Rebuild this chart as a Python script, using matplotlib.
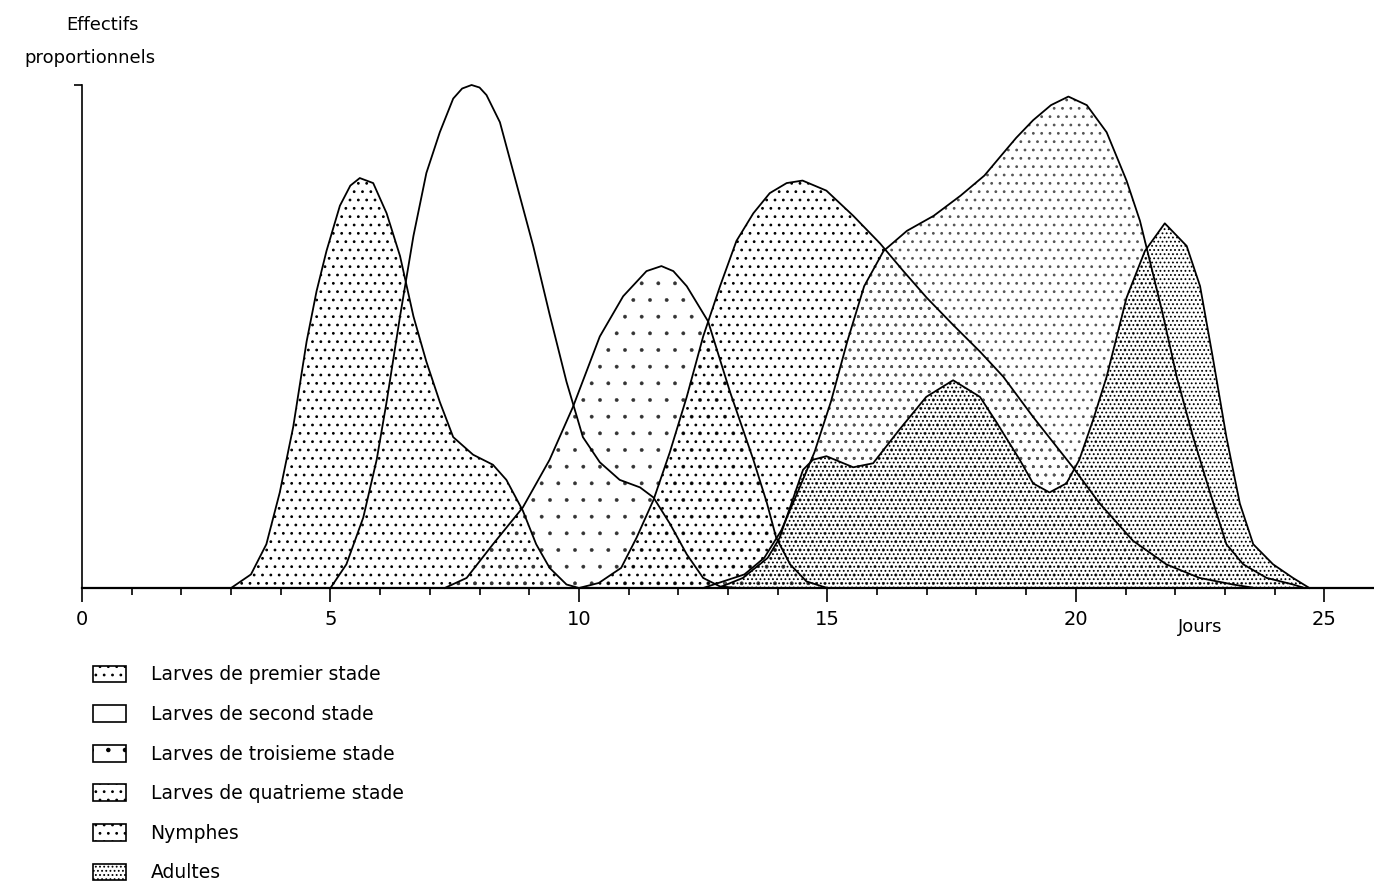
import matplotlib
matplotlib.use('Agg')
import matplotlib.pyplot as plt
from matplotlib.patches import Patch

plt.rcParams['font.family'] = ['DejaVu Sans']
plt.rcParams['hatch.linewidth'] = 0.8

# values (day, proportional count)
day_l1 = [3.0, 3.4, 3.71, 3.98, 4.25, 4.52, 4.72, 4.92, 5.19, 5.4, 5.59, 5.86, 6.13, 6.4, 6.67,
          6.93, 7.2, 7.47, 7.87, 8.27, 8.54, 8.87, 9.14, 9.41, 9.75, 10.0]
val_l1 = [0.0, 0.027, 0.087, 0.19, 0.32, 0.49, 0.59, 0.67, 0.76, 0.80, 0.815, 0.805, 0.745, 0.66, 0.54,
          0.45, 0.37, 0.30, 0.265, 0.245, 0.215, 0.154, 0.087, 0.04, 0.007, 0.0]

day_l2 = [5.0, 5.32, 5.66, 5.93, 6.13, 6.4, 6.67, 6.93, 7.2, 7.47, 7.65, 7.84, 8.0, 8.14, 8.41, 8.74,
          9.08, 9.41, 9.75, 10.08, 10.42, 10.82, 11.23, 11.5, 11.83, 12.17, 12.5, 12.84, 13.2]
val_l2 = [0.0, 0.047, 0.14, 0.255, 0.37, 0.54, 0.70, 0.825, 0.906, 0.973, 0.993, 1.0, 0.995, 0.98, 0.926, 0.805,
          0.68, 0.544, 0.41, 0.30, 0.25, 0.215, 0.2, 0.18, 0.128, 0.067, 0.02, 0.003, 0.0]

day_l3 = [7.3, 7.74, 8.27, 8.87, 9.41, 9.88, 10.42, 10.89, 11.36, 11.66, 11.9, 12.17, 12.6, 13.04,
          13.51, 13.78, 13.97, 14.25, 14.58, 15.0]
val_l3 = [0.0, 0.02, 0.087, 0.16, 0.255, 0.36, 0.50, 0.58, 0.63, 0.64, 0.63, 0.60, 0.53, 0.39,
          0.255, 0.17, 0.10, 0.047, 0.013, 0.0]

day_l4 = [10.0, 10.4, 10.85, 11.16, 11.5, 11.83, 12.17, 12.5, 12.84, 13.17, 13.51, 13.84, 14.18,
          14.5, 14.98, 15.52, 16.06, 16.53, 17.0, 17.53, 18.07, 18.54, 19.14, 19.94, 20.48,
          21.15, 21.82, 22.49, 23.16, 23.6]
val_l4 = [0.0, 0.01, 0.04, 0.10, 0.175, 0.27, 0.38, 0.5, 0.6, 0.69, 0.745, 0.785, 0.805,
          0.81, 0.79, 0.74, 0.685, 0.63, 0.577, 0.523, 0.47, 0.42, 0.34, 0.24, 0.168,
          0.094, 0.047, 0.02, 0.007, 0.0]

day_ny = [12.5, 13.33, 13.73, 14.07, 14.4, 14.74, 15.07, 15.4, 15.74, 16.13, 16.6, 17.14, 17.68,
          18.16, 18.5, 18.8, 19.14, 19.5, 19.85, 20.22, 20.62, 21.02, 21.29, 21.49, 21.76, 22.03,
          22.36, 22.7, 23.03, 23.37, 23.84, 24.37, 24.6]
val_ny = [0.0, 0.027, 0.06, 0.114, 0.19, 0.27, 0.37, 0.49, 0.60, 0.67, 0.71, 0.74, 0.78,
          0.82, 0.86, 0.895, 0.93, 0.96, 0.977, 0.96, 0.906, 0.81, 0.73, 0.65, 0.54, 0.42,
          0.30, 0.19, 0.087, 0.047, 0.02, 0.007, 0.0]

day_ad = [12.8, 13.3, 13.8, 14.04, 14.3, 14.51, 14.71, 14.98, 15.52, 15.92, 16.45, 16.99, 17.53,
          18.07, 18.4, 18.87, 19.14, 19.47, 19.81, 20.07, 20.35, 20.62, 21.02, 21.39, 21.79,
          22.23, 22.5, 22.76, 23.03, 23.3, 23.57, 23.97, 24.37, 24.7]
val_ad = [0.0, 0.02, 0.06, 0.10, 0.175, 0.235, 0.255, 0.262, 0.24, 0.248, 0.315, 0.38, 0.413,
          0.38, 0.33, 0.255, 0.208, 0.19, 0.208, 0.255, 0.335, 0.42, 0.577, 0.67, 0.725,
          0.68, 0.6, 0.456, 0.30, 0.168, 0.087, 0.047, 0.02, 0.0]

labels = ["Larves de premier stade", "Larves de second stade", "Larves de troisieme stade",
          "Larves de quatrieme stade", "Nymphes", "Adultes"]

series = [(day_l1, val_l1), (day_l2, val_l2), (day_l3, val_l3),
          (day_l4, val_l4), (day_ny, val_ny), (day_ad, val_ad)]
hatches = ['..', '', '.', '..', '..', '....']
hatch_cols = ['black', 'black', '#333333', 'black', '#555555', 'black']
hatch_lw = [0.8, 0.8, 0.3, 0.8, 0.8, 0.8]

fig = plt.figure(figsize=(13.74, 8.82), dpi=100)
ax = fig.add_axes([82 / 1374, 294 / 882, 1 - 82 / 1374, (588 - 85) / 882])

for (d, v), h, hc, hl in zip(series, hatches, hatch_cols, hatch_lw):
    if h:
        with plt.rc_context({'hatch.linewidth': hl}):
            ax.fill_between(d, v, 0, facecolor='none', edgecolor=hc, hatch=h, linewidth=0)
    ax.plot(d, v, color='black', lw=1.3, clip_on=False, solid_joinstyle='round')

ax.set_xlim(0, 26)
ax.set_ylim(0, 1)
ax.spines['top'].set_visible(False)
ax.spines['right'].set_visible(False)
ax.spines['left'].set_linewidth(1.2)
ax.spines['bottom'].set_linewidth(1.6)
ax.set_xticks(range(0, 26, 5))
ax.set_xticks(range(0, 26), minor=True)
ax.tick_params(axis='x', which='major', direction='out', length=10, width=1.2,
               labelsize=14, pad=6)
ax.tick_params(axis='x', which='minor', direction='out', length=5, width=1.2)
ax.set_yticks([1])
ax.set_yticklabels([''])
ax.tick_params(axis='y', direction='out', length=6, width=1.2)

fig.text(1200 / 1374, 1 - 627 / 882, "Jours", fontsize=13, ha='center', va='center')
fig.text(103 / 1374, 1 - 25 / 882, "Effectifs", fontsize=13, ha='center', va='center')
fig.text(90 / 1374, 1 - 58 / 882, "proportionnels", fontsize=13, ha='center', va='center')

handles = []
for h, hc, hl in zip(hatches, hatch_cols, hatch_lw):
    with plt.rc_context({'hatch.linewidth': hl}):
        handles.append(Patch(facecolor='white', edgecolor='black', hatch=h, linewidth=1.2))
fig.legend(handles, labels, loc='upper left', bbox_to_anchor=(84 / 1374, 1 - 656 / 882),
           frameon=False, fontsize=13.5, handlelength=1.75, handleheight=1.0,
           labelspacing=1.1, handletextpad=1.3, borderpad=0)

fig.savefig('out.png', dpi=100)
